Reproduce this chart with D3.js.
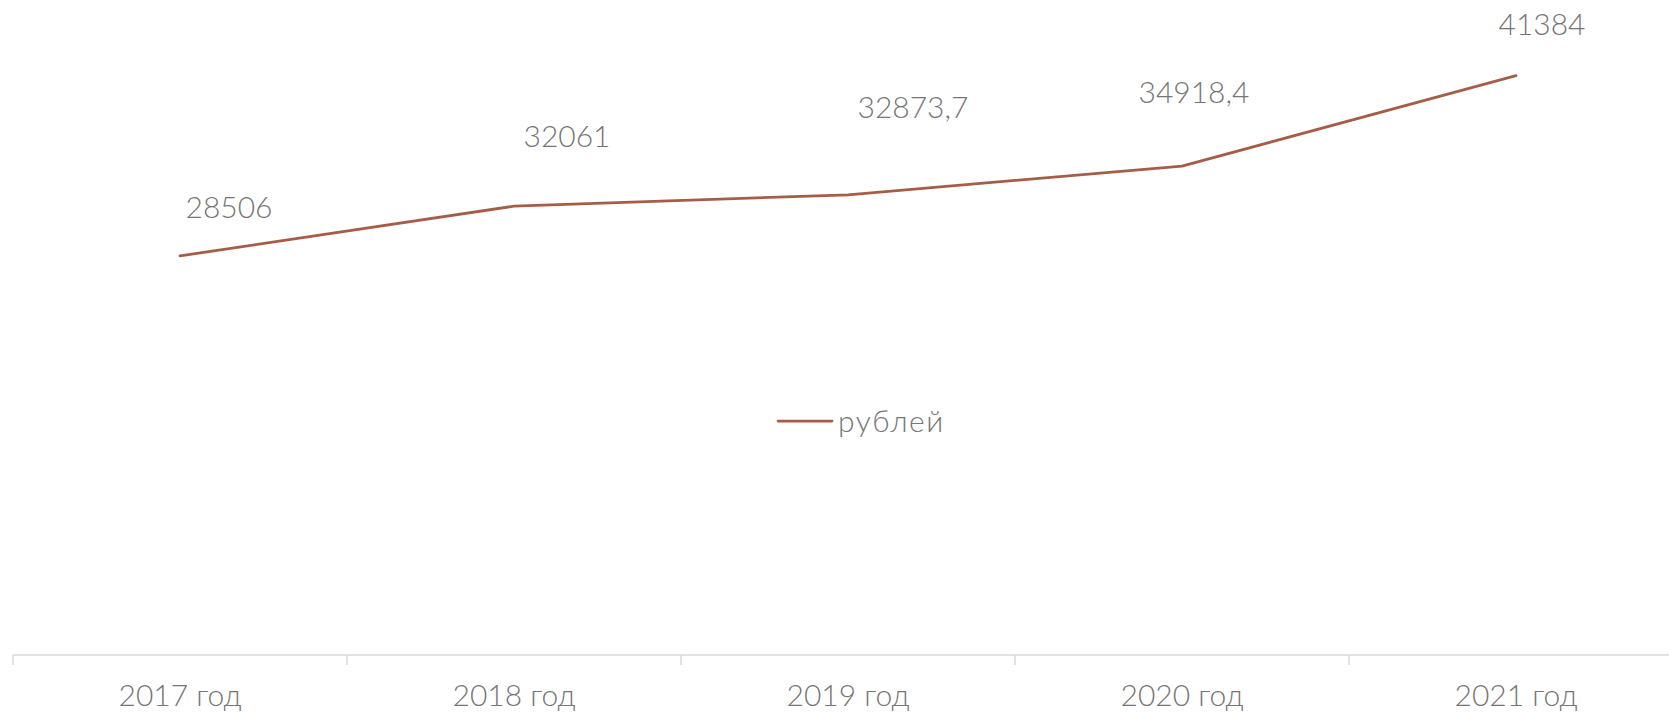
<!DOCTYPE html>
<meta charset="utf-8">
<style>
body { margin: 0; background: #fff; }
svg text { font-family: Lato, "Noto Sans", sans-serif; font-weight: 300; fill: #767676; }
.axis .domain, .axis line { stroke: #d9d9d9; stroke-width: 1.5px; }
</style>
<svg width="1669" height="718"></svg>
<script src="https://cdn.jsdelivr.net/npm/d3@7"></script>
<script>

var years = ["2017 год", "2018 год", "2019 год", "2020 год", "2021 год"];
var rubles = [28506, 32061, 32873.7, 34918.4, 41384];
var seriesName = "рублей";

// hand-placed data labels (offset of label centre / baseline from the point)
var labelDx = [49, 53, 65, 12, 26];
var labelDy = [-38, -59, -77, -63, -41];

var svg = d3.select("svg"),
    width = +svg.attr("width"),
    height = +svg.attr("height");

var lineColor = "#a65d48";

var x = d3.scaleBand()
    .domain(years)
    .range([13, 13 + 334 * years.length]);

var y = d3.scaleLinear()
    .domain([0, 45000])
    .range([655, 25]);

var ru = d3.formatLocale({decimal: ",", thousands: "", grouping: [3], currency: ["", " руб."]});
var fmt = function(v) { return Number.isInteger(v) ? String(v) : ru.format(".1f")(v); };

// x axis: line plus ticks between categories
var axis = svg.append("g")
    .attr("class", "axis")
    .attr("transform", "translate(0," + y(0) + ")");

axis.append("line")
    .attr("class", "domain")
    .attr("x1", x.range()[0])
    .attr("x2", x.range()[1]);

axis.selectAll("line.tick")
    .data(years.map(function(d) { return x(d); }).concat([x.range()[1]]))
    .enter().append("line")
      .attr("class", "tick")
      .attr("x1", function(d) { return d; })
      .attr("x2", function(d) { return d; })
      .attr("y1", 0)
      .attr("y2", 10);

axis.selectAll("text")
    .data(years)
    .enter().append("text")
      .attr("x", function(d) { return x(d) + x.bandwidth() / 2; })
      .attr("y", 51)
      .attr("text-anchor", "middle")
      .style("font-size", "30px")
      .text(function(d) { return d; });

// the line
var line = d3.line()
    .x(function(d, i) { return x(years[i]) + x.bandwidth() / 2; })
    .y(function(d) { return y(d); });

svg.append("path")
    .datum(rubles)
    .attr("d", line)
    .attr("fill", "none")
    .attr("stroke", lineColor)
    .attr("stroke-width", 2.75)
    .attr("stroke-linejoin", "round")
    .attr("stroke-linecap", "round");

// data labels
svg.append("g").selectAll("text")
    .data(rubles)
    .enter().append("text")
      .attr("x", function(d, i) { return x(years[i]) + x.bandwidth() / 2 + labelDx[i]; })
      .attr("y", function(d, i) { return y(d) + labelDy[i]; })
      .attr("text-anchor", "middle")
      .style("font-size", "30px")
      .text(fmt);

// legend
var legend = svg.append("g").attr("transform", "translate(778,421)");
legend.append("line")
    .attr("x1", 0).attr("x2", 54)
    .attr("stroke", lineColor)
    .attr("stroke-width", 2.75)
    .attr("stroke-linecap", "round");
legend.append("text")
    .attr("x", 60)
    .attr("y", 11)
    .style("font-size", "30px")
    .style("letter-spacing", "1.5px")
    .text(seriesName);

</script>
